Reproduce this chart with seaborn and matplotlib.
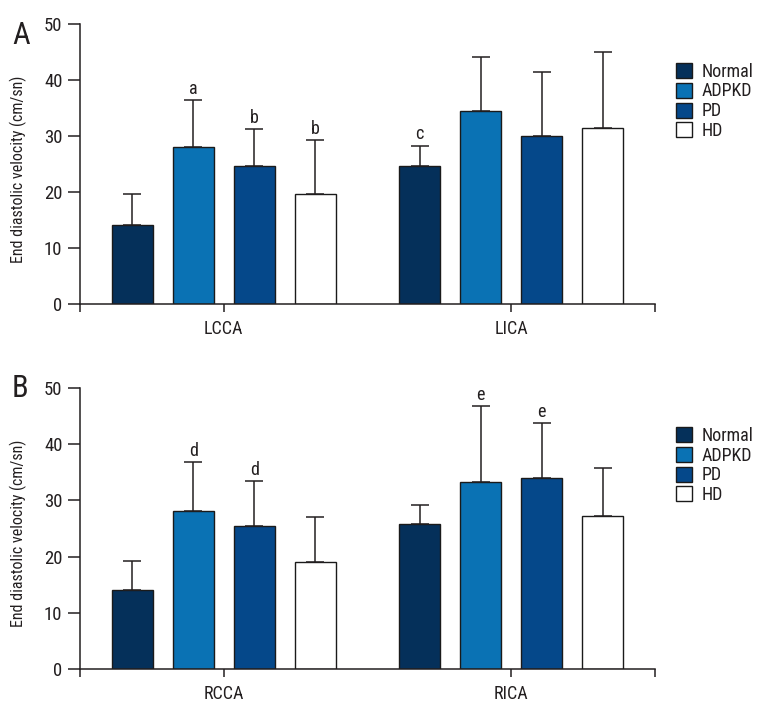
import matplotlib

matplotlib.use("Agg")
import matplotlib.pyplot as plt
import pandas as pd
import seaborn as sns
from matplotlib.patches import Patch

# Groups and their fill colours
GROUPS = ["Normal", "ADPKD", "PD", "HD"]
COLORS = ["#05305a", "#0a72b4", "#05488a", "#ffffff"]

# Panel A: left / right common & internal carotid
LCCA_MEAN = [14.1, 28.1, 24.7, 19.7]
LCCA_SD = [5.6, 8.4, 6.5, 9.6]
LCCA_MARK = ["", "a", "b", "b"]

LICA_MEAN = [24.7, 34.4, 30.0, 31.4]
LICA_SD = [3.6, 9.7, 11.5, 13.6]
LICA_MARK = ["c", "", "", ""]

# Panel B
RCCA_MEAN = [14.0, 28.2, 25.4, 19.0]
RCCA_SD = [5.2, 8.7, 8.1, 8.1]
RCCA_MARK = ["", "d", "d", ""]

RICA_MEAN = [25.8, 33.3, 33.9, 27.2]
RICA_SD = [3.4, 13.5, 9.9, 8.6]
RICA_MARK = ["", "e", "e", ""]

Y_TICKS = [0, 10, 20, 30, 40, 50]
Y_LABEL = "End diastolic velocity (cm/sn)"

INK = "#231f20"
EDGE = "#1a1a1a"


def build(sites: list, means: list, sds: list, marks: list) -> pd.DataFrame:
    rows = []
    for site, m, s, k in zip(sites, means, sds, marks):
        for g, mv, sv, kv in zip(GROUPS, m, s, k):
            rows.append({"site": site, "group": g, "mean": mv, "sd": sv, "mark": kv})
    return pd.DataFrame(rows)


def panel(ax, df: pd.DataFrame, sites: list) -> None:
    sns.barplot(
        data=df,
        x="site",
        y="mean",
        hue="group",
        order=sites,
        hue_order=GROUPS,
        palette=dict(zip(GROUPS, COLORS)),
        saturation=1,
        width=0.85,
        gap=0.33,
        errorbar=None,
        edgecolor=EDGE,
        linewidth=1.0,
        legend=False,
        ax=ax,
    )

    # Upper-only error bars and significance letters
    bar_sets = list(ax.containers)
    for gi, cont in enumerate(bar_sets):
        for si, bar in enumerate(cont.patches):
            row = df[(df["site"] == sites[si]) & (df["group"] == GROUPS[gi])].iloc[0]
            x = bar.get_x() + bar.get_width() / 2
            ax.errorbar(
                x, row["mean"], yerr=[[0], [row["sd"]]], fmt="none",
                ecolor=INK, elinewidth=1.1, capsize=6.8, capthick=1.1, zorder=1,
            )
            if row["mark"]:
                ax.annotate(
                    row["mark"], (x, row["mean"] + row["sd"]), xytext=(0, 1.5),
                    textcoords="offset points", ha="center", va="bottom",
                    fontsize=13, color=INK, annotation_clip=False,
                )

    ax.set_xlim(-0.5, 1.5)
    ax.set_ylim(0, 50)
    ax.set_yticks(Y_TICKS)
    ax.set_xticks([0, 1])
    ax.set_xticks([-0.5, 1.5], minor=True)
    ax.set_xticklabels(sites)
    ax.set_xlabel("")
    ax.set_ylabel(Y_LABEL, fontsize=11.5, color=INK)
    ax.yaxis.set_label_coords(-0.092, 0.482)

    sns.despine(ax=ax)
    for sp in ("left", "bottom"):
        ax.spines[sp].set_linewidth(1.1)
        ax.spines[sp].set_color(INK)
    ax.tick_params(axis="y", length=8.6, width=1.1, color=INK, labelsize=13.5,
                   labelcolor=INK, pad=4)
    ax.tick_params(axis="x", which="both", length=5.8, width=1.1, color=INK,
                   labelsize=13, labelcolor=INK, pad=6)

    handles = [Patch(facecolor=c, edgecolor=EDGE, linewidth=1.0, label=g)
               for g, c in zip(GROUPS, COLORS)]
    ax.legend(
        handles=handles, loc="upper left", bbox_to_anchor=(1.0365, 0.862),
        frameon=False, fontsize=13, handlelength=0.9, handleheight=0.9,
        handletextpad=0.5, labelspacing=0.1, borderpad=0, borderaxespad=0,
        labelcolor=INK,
    )


def main() -> None:
    sns.set_style("ticks")
    plt.rcParams["font.family"] = [
        "Roboto Condensed", "Liberation Sans Narrow", "Roboto", "DejaVu Sans"
    ]

    fig = plt.figure(figsize=(7.6, 7.2), dpi=100)
    ax_a = fig.add_axes([80 / 760, 1 - 304 / 720, 575 / 760, 280 / 720])
    ax_b = fig.add_axes([80 / 760, 1 - 669 / 720, 575 / 760, 281 / 720])

    top = build(["LCCA", "LICA"], [LCCA_MEAN, LICA_MEAN], [LCCA_SD, LICA_SD],
                [LCCA_MARK, LICA_MARK])
    bottom = build(["RCCA", "RICA"], [RCCA_MEAN, RICA_MEAN], [RCCA_SD, RICA_SD],
                   [RCCA_MARK, RICA_MARK])

    panel(ax_a, top, ["LCCA", "LICA"])
    panel(ax_b, bottom, ["RCCA", "RICA"])

    # Panel letters
    fig.text(12 / 760, 1 - 21 / 720, "A", fontsize=22, color=INK, va="top")
    fig.text(12 / 760, 1 - 374 / 720, "B", fontsize=22, color=INK, va="top")

    fig.savefig("out.png", dpi=100, facecolor="white")


if __name__ == "__main__":
    main()
